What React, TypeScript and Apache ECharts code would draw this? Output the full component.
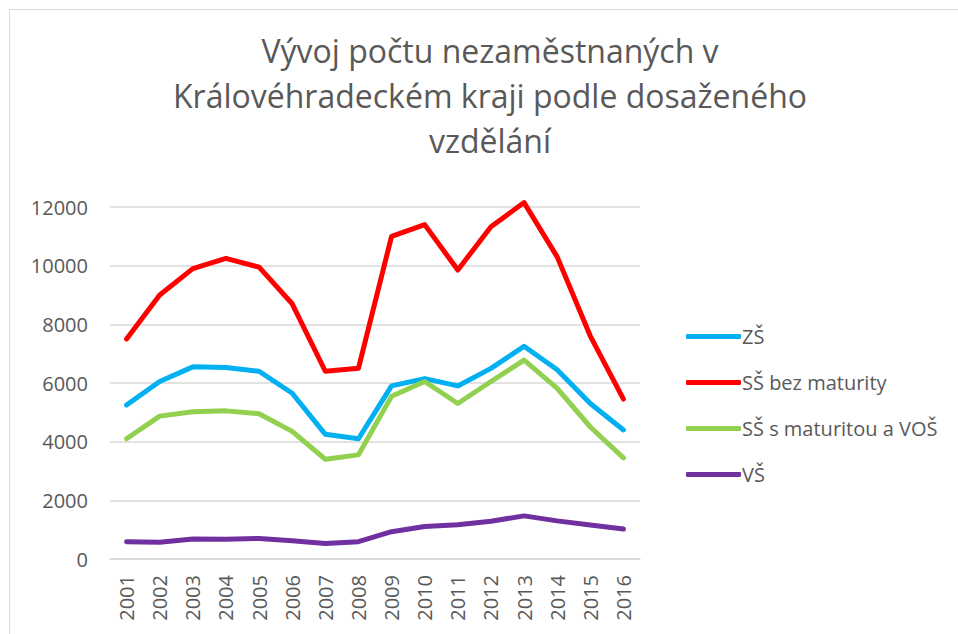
import React, { useEffect, useRef } from "react";
import * as echarts from "echarts";

const years = ["2001","2002","2003","2004","2005","2006","2007","2008","2009","2010","2011","2012","2013","2014","2015","2016"];
const zs = [5250, 6050, 6550, 6530, 6400, 5650, 4250, 4100, 5900, 6150, 5900, 6500, 7250, 6450, 5300, 4400];
const ssBez = [7500, 9000, 9900, 10250, 9950, 8700, 6400, 6500, 11000, 11400, 9850, 11330, 12150, 10300, 7600, 5450];
const ssMat = [4100, 4870, 5020, 5050, 4950, 4350, 3400, 3550, 5550, 6050, 5300, 6050, 6780, 5820, 4500, 3450];
const vs = [590, 570, 680, 670, 700, 620, 530, 590, 930, 1110, 1170, 1290, 1470, 1300, 1160, 1020];
const seriesNames = ["ZŠ", "SŠ bez maturity", "SŠ s maturitou a VOŠ", "VŠ"];
const seriesColors = ["#00B0F0", "#FF0000", "#92D050", "#7030A0"];
const titleLines = ["Vývoj počtu nezaměstnaných v", "Královéhradeckém kraji podle dosaženého", "vzdělání"];

const FONT = "'Open Sans', 'Noto Sans', sans-serif";

export default function App() {
  const ref = useRef<HTMLDivElement>(null);
  useEffect(() => {
    if (!ref.current) return;
    const chart = echarts.init(ref.current, null, { renderer: "svg" });
    const data = [zs, ssBez, ssMat, vs];
    chart.setOption({
      animation: false,
      backgroundColor: "#ffffff",
      textStyle: { fontFamily: FONT },
      graphic: [
        {
          type: "rect",
          shape: { x: 9.5, y: 9.5, width: 1200, height: 1200 },
          style: { fill: "none", stroke: "#D9D9D9", lineWidth: 1 },
          silent: true,
        },
        ...titleLines.map((t, i) => ({
          type: "text",
          x: 490,
          y: 66 + i * 45,
          style: {
            text: t,
            fill: "#595959",
            font: `32px ${FONT}`,
            textAlign: "center",
            textVerticalAlign: "bottom",
          },
        })),
      ],
      legend: {
        orient: "vertical",
        left: 681,
        top: 320,
        icon: "roundRect",
        itemWidth: 55,
        itemHeight: 5,
        itemGap: 23,
        data: seriesNames,
        textStyle: { color: "#595959", fontSize: 20, fontFamily: FONT, padding: [0, 0, 0, -4], lineHeight: 23 },
      },
      grid: { left: 110, right: 318, top: 207, bottom: 75, containLabel: false },
      xAxis: {
        type: "category",
        data: years,
        boundaryGap: true,
        axisLine: { lineStyle: { color: "#D9D9D9", width: 1.5 } },
        axisTick: { show: false },
        axisLabel: { rotate: 90, color: "#595959", fontSize: 20, fontFamily: FONT, margin: 16 },
      },
      yAxis: {
        type: "value",
        min: 0,
        max: 12000,
        interval: 2000,
        axisLine: { show: false },
        axisTick: { show: false },
        splitLine: { lineStyle: { color: "#D9D9D9", width: 1.5 } },
        axisLabel: { color: "#595959", fontSize: 20, fontFamily: FONT, margin: 22, formatter: (v: number) => String(v) },
      },
      series: seriesNames.map((n, i) => ({
        name: n,
        type: "line",
        data: data[i],
        symbol: "none",
        clip: false,
        color: seriesColors[i],
        lineStyle: { width: 5, color: seriesColors[i], cap: "round", join: "round" },
      })),
    });
    return () => chart.dispose();
  }, []);
  return (
    <div
      ref={ref}
      style={{ position: "fixed", left: 0, top: 0, width: 958, height: 634 }}
    />
  );
}
